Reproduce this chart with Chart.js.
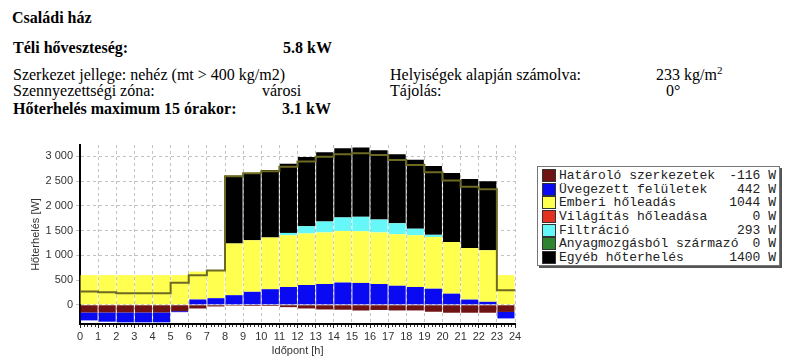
<!DOCTYPE html>
<html>
<head>
<meta charset="utf-8">
<script src="https://cdn.jsdelivr.net/npm/chart.js@4.4.1/dist/chart.umd.min.js"></script>
<style>
body { margin:0; background:#fff; }
#lap { position:relative; width:800px; height:361px; overflow:hidden; font-family:"Liberation Serif", "Times New Roman", serif; font-size:16px; color:#000; }
.t { position:absolute; line-height:16px; white-space:nowrap; }
.b { font-weight:bold; }
sup { font-size:11px; line-height:0; vertical-align:6px; }
#grafikon { position:absolute; left:0; top:130px; }
#jelmagy { position:absolute; left:537px; top:166px; width:243px; height:100px; border:1px solid #777; box-shadow:2px 2px 0 #555; box-sizing:border-box; padding-top:2px; font-family:"Liberation Mono", "Courier New", monospace; font-size:13px; color:#222; }
.sor { display:flex; align-items:center; height:13.6px; }
.negyzet { width:12px; height:11px; border:1px solid #333; margin-left:4px; margin-right:3px; }
.nev { flex:1; white-space:pre; }
.ertek { margin-right:3px; white-space:pre; }
</style>
</head>
<body>
<div id="lap">
  <div class="t b" style="left:12px; top:10px;">Családi ház</div>
  <div class="t b" style="left:13px; top:40px;">Téli hőveszteség:</div>
  <div class="t b" style="left:283px; top:40px;">5.8 kW</div>
  <div class="t" style="left:13px; top:67px;">Szerkezet jellege: nehéz (mt &gt; 400 kg/m2)</div>
  <div class="t" style="left:390px; top:67px;">Helyiségek alapján számolva:</div>
  <div class="t" style="left:656px; top:67px;">233 kg/m<sup>2</sup></div>
  <div class="t" style="left:13px; top:83px;">Szennyezettségi zóna:</div>
  <div class="t" style="left:262px; top:83px;">városi</div>
  <div class="t" style="left:390px; top:83px;">Tájolás:</div>
  <div class="t" style="left:666px; top:83px;">0°</div>
  <div class="t b" style="left:13px; top:101px;">Hőterhelés maximum 15 órakor:</div>
  <div class="t b" style="left:282px; top:101px;">3.1 kW</div>
  <canvas id="grafikon" width="530" height="231"></canvas>
  <div id="jelmagy"></div>
</div>
<script>
var orak = [0,1,2,3,4,5,6,7,8,9,10,11,12,13,14,15,16,17,18,19,20,21,22,23];
var xCimkek = [0,1,2,3,4,5,6,7,8,9,10,11,12,13,14,15,16,17,18,19,20,21,22,23,24];
var yCimkek = [0,500,1000,1500,2000,2500,3000];
var maxOra = 15;

var hatarolo  = [-155,-155,-155,-155,-155,-129,-75,-34,-20,-25,-25,-48,-75,-95,-100,-116,-105,-115,-115,-141,-161,-161,-161,-145];
var uvegezett = [-161,-188,-200,-200,-200,-20,107,133,194,262,315,360,400,420,450,442,420,385,360,325,225,105,60,-131];
var emberi    = [600,600,600,600,600,600,564,570,1044,1044,1044,1044,1044,1044,1044,1044,1044,1044,1044,1044,1044,1044,1044,600];
var vilagitas = [0,0,0,0,0,0,0,0,0,0,0,0,0,0,0,0,0,0,0,0,0,0,0,0];
var filtracio = [0,0,0,0,0,0,0,0,0,0,0,50,145,220,273,293,260,220,135,45,0,0,0,0];
var anyagmozg = [0,0,0,0,0,0,0,0,0,0,0,0,0,0,0,0,0,0,0,0,0,0,0,0];
var egyeb     = [0,0,0,0,0,0,0,0,1370,1350,1365,1400,1400,1400,1400,1400,1400,1395,1395,1395,1395,1395,1395,0];
var osszes    = [268,254,234,234,234,443,597,691,2600,2660,2700,2790,2900,2995,3045,3063,3030,2930,2825,2680,2515,2385,2335,295];

var nevek = ['Határoló szerkezetek', 'Üvegezett felületek', 'Emberi hőleadás', 'Világítás hőleadása', 'Filtráció', 'Anyagmozgásból származó', 'Egyéb hőterhelés'];
var sorok = [hatarolo, uvegezett, emberi, vilagitas, filtracio, anyagmozg, egyeb];
var szinek = ['#6e1212', '#0a0af2', '#ffff4f', '#e3321f', '#66f8f8', '#2f852f', '#000000'];

function oszlopPontok(arr) {
  return arr.map(function(v, i) { return {x: orak[i] + 0.5, y: v}; });
}

function vonalPontok(arr) {
  var p = arr.map(function(v, i) { return {x: orak[i], y: v}; });
  p.push({x: xCimkek[xCimkek.length - 1], y: arr[arr.length - 1]});
  return p;
}

function ezres(v) {
  return String(v).replace(/\B(?=(\d{3})+(?!\d))/g, ' ');
}

// jelmagyarázat (a 15 órás értékek)
var jm = document.getElementById('jelmagy');
for (var i = 0; i < nevek.length; i++) {
  var s = document.createElement('div');
  s.className = 'sor';
  s.innerHTML = '<div class="negyzet" style="background:' + szinek[i] + '"></div>' +
    '<span class="nev">' + nevek[i] + '</span><span class="ertek">' + sorok[i][maxOra] + ' W</span>';
  jm.appendChild(s);
}

var datasets = [{
  type: 'line',
  label: 'Összes',
  data: vonalPontok(osszes),
  stack: 'vonal',
  stepped: true,
  borderColor: '#6d6a24',
  borderWidth: 2,
  pointRadius: 0,
  fill: false,
  order: 0
}];
for (var j = 0; j < sorok.length; j++) {
  datasets.push({
    type: 'bar',
    label: nevek[j],
    data: oszlopPontok(sorok[j]),
    backgroundColor: szinek[j],
    borderWidth: 0,
    stack: 'oszlop',
    barPercentage: 0.94,
    categoryPercentage: 1,
    order: 1
  });
}

var aproOsztas = {
  id: 'aproOsztas',
  afterDraw: function(chart) {
    var x = chart.scales.x, ctx = chart.ctx, y0 = chart.chartArea.bottom;
    ctx.save();
    ctx.strokeStyle = '#333';
    ctx.lineWidth = 1;
    ctx.beginPath();
    for (var k = 0; k <= 120; k++) {
      if (k % 5 === 0) continue;
      var px = Math.round(x.getPixelForValue(k / 5)) + 0.5;
      ctx.moveTo(px, y0 + 1);
      ctx.lineTo(px, y0 + 3);
    }
    ctx.stroke();
    ctx.restore();
  }
};

var betu = {family: '"Liberation Sans", Arial, sans-serif', size: 11};

var grafico = new Chart(document.getElementById('grafikon').getContext('2d'), {
  type: 'bar',
  data: {datasets: datasets},
  plugins: [aproOsztas],
  options: {
    responsive: false,
    animation: false,
    layout: {padding: {left: 29, top: 15, right: 15, bottom: 0}},
    plugins: {legend: {display: false}, tooltip: {enabled: false}},
    scales: {
      x: {
        type: 'linear',
        min: 0,
        max: 24,
        offset: false,
        stacked: true,
        afterFit: function(s) { s.height = 37; },
        afterBuildTicks: function(s) { s.ticks = xCimkek.map(function(v) { return {value: v}; }); },
        ticks: {font: betu, color: '#333', padding: 2, maxRotation: 0, autoSkip: false},
        grid: {offset: false, color: '#c2c2c2', tickColor: '#222', tickLength: 4},
        border: {color: '#000', width: 2, dash: [3, 3]},
        title: {display: true, text: 'Időpont [h]', font: betu, color: '#333', padding: {top: 0, bottom: 3}}
      },
      y: {
        stacked: true,
        min: -389,
        max: 3232,
        afterFit: function(s) { s.width = 51; },
        afterBuildTicks: function(s) { s.ticks = yCimkek.map(function(v) { return {value: v}; }); },
        ticks: {font: betu, color: '#333', padding: 3, callback: function(v) { return ezres(v); }},
        grid: {color: '#c2c2c2', tickColor: '#c2c2c2', tickLength: 4},
        border: {color: '#000', width: 2, dash: [3, 3]},
        title: {display: true, text: 'Hőterhelés [W]', font: betu, color: '#333', padding: {top: 0, bottom: 4}}
      }
    }
  }
});
</script>
</body>
</html>
